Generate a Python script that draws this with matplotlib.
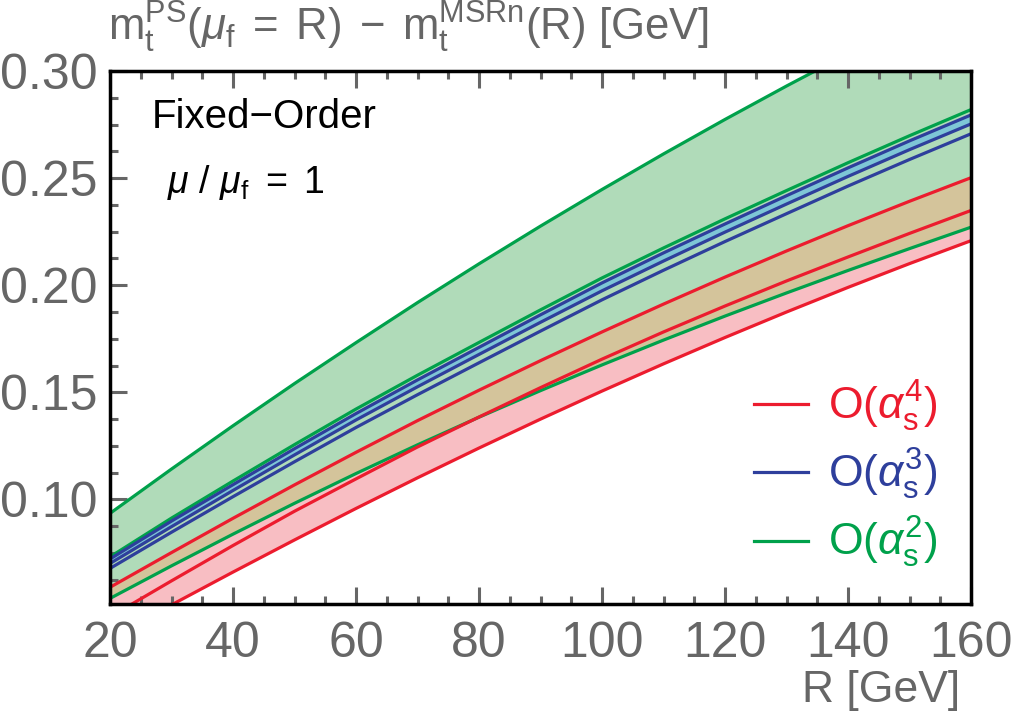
import matplotlib
matplotlib.use('Agg')
import matplotlib.pyplot as plt
from matplotlib.ticker import MultipleLocator, FormatStrFormatter
from matplotlib.lines import Line2D

plt.rcParams['font.family'] = ['Liberation Sans', 'DejaVu Sans']
plt.rcParams['mathtext.fontset'] = 'custom'
plt.rcParams['mathtext.rm'] = 'Liberation Sans'
plt.rcParams['mathtext.it'] = 'Liberation Sans:italic'
plt.rcParams['mathtext.bf'] = 'Liberation Sans:bold'

# R values [GeV]
R = [20, 30, 40, 50, 60, 70, 80, 90, 100, 110, 120, 130, 140, 150, 160]

# O(as^2) curves (green)
g_top = [0.0935, 0.1142, 0.1344, 0.1541, 0.1732, 0.1919, 0.2100, 0.2276,
         0.2447, 0.2613, 0.2774, 0.2930, 0.3081, 0.3226, 0.3367]
g_mid = [0.0732, 0.0913, 0.1086, 0.1256, 0.1422, 0.1580, 0.1733, 0.1885,
         0.2034, 0.2174, 0.2310, 0.2442, 0.2572, 0.2698, 0.2820]
g_low = [0.0538, 0.0690, 0.0838, 0.0982, 0.1121, 0.1255, 0.1384, 0.1508,
         0.1628, 0.1744, 0.1856, 0.1964, 0.2069, 0.2171, 0.2271]

# O(as^3) curves (blue)
b_1 = [0.0722, 0.0899, 0.1069, 0.1237, 0.1401, 0.1558, 0.1710, 0.1862,
       0.2011, 0.2151, 0.2286, 0.2418, 0.2548, 0.2674, 0.2795]
b_2 = [0.0701, 0.0873, 0.1042, 0.1208, 0.1371, 0.1526, 0.1677, 0.1827,
       0.1974, 0.2113, 0.2248, 0.2379, 0.2508, 0.2633, 0.2753]
b_3 = [0.0678, 0.0847, 0.1013, 0.1176, 0.1336, 0.1489, 0.1638, 0.1786,
       0.1932, 0.2070, 0.2204, 0.2334, 0.2463, 0.2587, 0.2707]

# O(as^4) curves (red)
r_up = [0.0590, 0.0752, 0.0912, 0.1068, 0.1220, 0.1368, 0.1510, 0.1648,
        0.1782, 0.1912, 0.2038, 0.2160, 0.2278, 0.2392, 0.2502]
r_mid = [0.0452, 0.0620, 0.0785, 0.0945, 0.1096, 0.1245, 0.1385, 0.1522,
         0.1655, 0.1782, 0.1903, 0.2020, 0.2132, 0.2242, 0.2349]
r_low = [0.0350, 0.0508, 0.0661, 0.0811, 0.0958, 0.1101, 0.1240, 0.1375,
         0.1506, 0.1633, 0.1756, 0.1875, 0.1990, 0.2101, 0.2208]

GREEN = '#00a14b'
BLUE = '#2e3f9c'
RED = '#ec1c2e'
GREY = '#666666'

fig = plt.figure(figsize=(10.15, 7.21), dpi=100)
ax = fig.add_axes([0.1084, 0.1623, 0.9567 - 0.1084, 0.9015 - 0.1623])

# bands
ax.fill_between(R, g_low, g_top, color='#b0dbb9', lw=0)
ax.fill_between(R, r_low, g_low, color='#f8bec3', lw=0)
ax.fill_between(R, g_low, r_up, color='#d4c49b', lw=0)
ax.fill_between(R, b_2, b_1, color='#7ec6d6', lw=0)

lw = 2.3
for c in (g_top, g_mid, g_low):
    ax.plot(R, c, color=GREEN, lw=lw)
for c in (b_1, b_2, b_3):
    ax.plot(R, c, color=BLUE, lw=lw)
for c in (r_up, r_mid, r_low):
    ax.plot(R, c, color=RED, lw=lw)

ax.set_xlim(20, 160)
ax.set_ylim(0.0512, 0.30)

ax.xaxis.set_major_locator(MultipleLocator(20))
ax.xaxis.set_minor_locator(MultipleLocator(5))
ax.yaxis.set_major_locator(MultipleLocator(0.05))
ax.yaxis.set_minor_locator(MultipleLocator(0.0125))
ax.yaxis.set_major_formatter(FormatStrFormatter('%.2f'))

ax.tick_params(which='both', direction='in', color=GREY, width=2.2,
               top=True, right=False, labelsize=36, labelcolor=GREY)
ax.tick_params(which='major', length=12)
ax.tick_params(which='minor', length=6)
ax.tick_params(axis='y', pad=9)
ax.tick_params(axis='x', pad=12)

for s in ax.spines.values():
    s.set_linewidth(2.5)
    s.set_color('black')

fig.text(0.1064, 0.944,
         r'$\mathregular{m_t^{PS}}(\mu_\mathregular{f}\;=\;\mathregular{R})\;-\;\mathregular{m_t^{MSRn}(R)\ [GeV]}$',
         fontsize=31.5, color=GREY, ha='left', va='baseline')
fig.text(0.946, 0.027, 'R [GeV]', fontsize=32, color=GREY, ha='right', va='baseline')

ax.text(0.048, 0.893, 'Fixed\u2212Order', transform=ax.transAxes, fontsize=29,
        color='black', ha='left', va='baseline')
ax.text(0.066, 0.772, r'$\mu\ /\ \mu_\mathregular{f}\ =\ \mathregular{1}$',
        transform=ax.transAxes, fontsize=27, color='black', ha='left', va='baseline')

handles = [Line2D([], [], color=RED, lw=lw),
           Line2D([], [], color=BLUE, lw=lw),
           Line2D([], [], color=GREEN, lw=lw)]
labels = [r'$\mathregular{O(}\alpha_\mathregular{s}^\mathregular{4}\mathregular{)}$',
          r'$\mathregular{O(}\alpha_\mathregular{s}^\mathregular{3}\mathregular{)}$',
          r'$\mathregular{O(}\alpha_\mathregular{s}^\mathregular{2}\mathregular{)}$']
leg = ax.legend(handles, labels, loc='lower right', bbox_to_anchor=(1.007, -0.012),
                frameon=False, fontsize=32, handlelength=1.2, handletextpad=0.45,
                labelspacing=0.3, labelcolor='linecolor')

fig.savefig('out.png', dpi=100)
